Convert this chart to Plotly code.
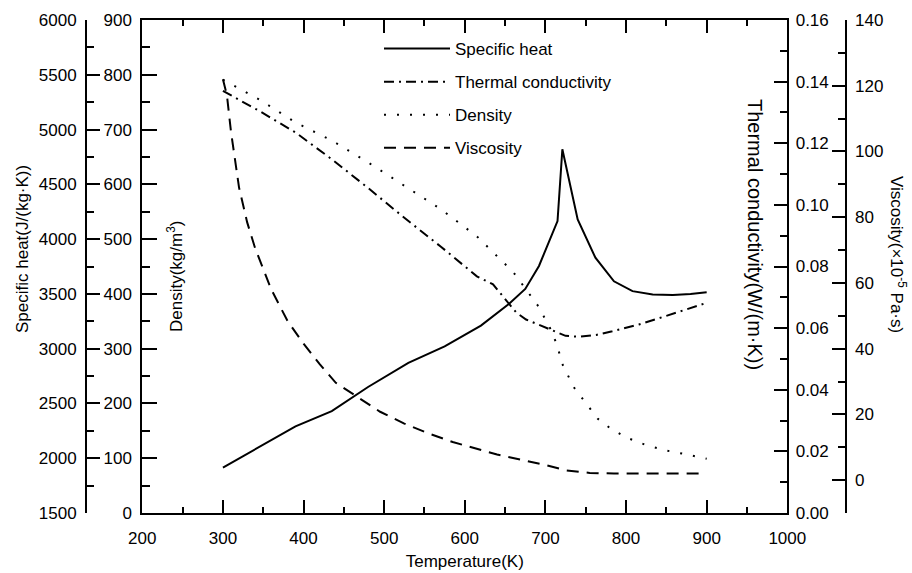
import plotly.graph_objects as go

# ---------------- data ----------------
T_cp = [300, 345, 390, 435, 480, 530, 575, 620, 655, 675, 692, 715, 721, 740, 762, 785, 808, 833, 858, 880, 900]
cp = [1915, 2105, 2290, 2430, 2650, 2870, 3020, 3210, 3410, 3545, 3755, 4165, 4820, 4180, 3830, 3615, 3525, 3495, 3490, 3500, 3515]

T_k = [300, 345, 390, 435, 480, 525, 570, 615, 635, 655, 664, 676, 700, 725, 742, 763, 783, 816, 849, 900]
k = [0.137, 0.1305, 0.1235, 0.1148, 0.1055, 0.0958, 0.0865, 0.0768, 0.0742, 0.0680, 0.0650, 0.0628,
     0.0601, 0.0575, 0.0572, 0.0578, 0.0590, 0.0612, 0.0639, 0.0682]

T_rho = [300, 345, 390, 435, 480, 525, 570, 615, 660, 690, 705, 715, 720, 735, 750, 765, 780, 800, 825, 850, 875, 900]
rho = [791, 755, 713, 680, 640, 598, 555, 505, 440, 380, 340, 305, 275, 230, 200, 172, 155, 138, 124, 114, 107, 99]

T_mu = [300, 305, 310, 320, 330, 340, 360, 380, 400, 420, 440, 465, 495, 525, 555, 585, 610, 640, 670, 700,
        725, 755, 785, 820, 860, 890]
mu = [122, 117, 106, 89, 78.5, 70.5, 58, 48.5, 41.5, 35.3, 29.6, 25.6, 20.8, 17.2, 14.2, 11.6, 9.8, 7.8, 6.2, 4.6,
      3.0, 2.2, 2.0, 2.0, 2.0, 2.0]

names = ["Specific heat", "Thermal conductivity", "Density", "Viscosity"]

# ---------------- layout helpers ----------------
W, H = 912, 573
ML, MR, MT, MB = 40, 40, 20, 60
PW = W - ML - MR
PH = H - MT - MB


def xp(px):
    return (px - ML) / PW


def yp(py):
    return (H - MB - py) / PH


FONT = "Liberation Sans, Arial, sans-serif"
FS = 17
LW = 2

fig = go.Figure()
fig.add_trace(go.Scatter(x=T_cp, y=cp, yaxis="y2", mode="lines", name=names[0], legendgroup="a",
                         line=dict(color="black", width=LW)))
fig.add_trace(go.Scatter(x=T_k, y=k, yaxis="y3", mode="lines", name=names[1], legendgroup="b",
                         line=dict(color="black", width=LW, dash="10px,5px,2px,5px")))
fig.add_trace(go.Scatter(x=T_rho, y=rho, yaxis="y", mode="lines", name=names[2], legendgroup="c",
                         line=dict(color="black", width=LW, dash="2px,11px")))
fig.add_trace(go.Scatter(x=T_mu, y=mu, yaxis="y4", mode="lines", name=names[3], legendgroup="d",
                         line=dict(color="black", width=LW, dash="12px,8px")))

common = dict(showline=True, linecolor="black", linewidth=2, ticks="inside", tickcolor="black",
              tickwidth=2, showgrid=False, zeroline=False, automargin=False,
              tickfont=dict(size=FS, color="black", family=FONT))


def minor(dt, ln):
    return dict(ticks="inside", ticklen=ln, dtick=dt, tickcolor="black", tickwidth=2, showgrid=False)


def title_ann(text, px, py, angle, size=FS):
    return dict(text=text, x=xp(px), y=yp(py), xref="paper", yref="paper", xanchor="center",
                yanchor="middle", textangle=angle, showarrow=False,
                font=dict(size=size, family=FONT, color="black"))


fig.update_layout(
    width=W, height=H,
    margin=dict(l=ML, r=MR, t=MT, b=MB, autoexpand=False),
    paper_bgcolor="white", plot_bgcolor="white",
    font=dict(family=FONT, size=FS, color="black"),
    showlegend=True,
    legend=dict(x=xp(379), y=yp(31), xanchor="left", yanchor="top", bgcolor="rgba(0,0,0,0)",
                font=dict(size=FS, family=FONT, color="black"), tracegroupgap=8, itemwidth=66),
    xaxis=dict(common, domain=[xp(142.3), xp(787.3)], range=[200, 1000], tick0=0, dtick=100, ticklen=13,
               minor=minor(50, 6), mirror="ticks", anchor="y", ticklabelstandoff=9,
               title=dict(text="Temperature(K)", standoff=8, font=dict(size=FS, family=FONT))),
    yaxis=dict(common, range=[0, 900], tick0=0, dtick=100, ticklen=15, minor=minor(50, 8),
               anchor="x", side="left", ticklabelstandoff=5),
    yaxis2=dict(common, range=[1500, 6000], tick0=0, dtick=500, ticklen=13, minor=minor(250, 7),
                overlaying="y", anchor="free", position=xp(86), side="left", ticklabelstandoff=5),
    yaxis3=dict(common, range=[0, 0.16], tick0=0, dtick=0.02, tickformat=".2f", ticklen=13,
                minor=minor(0.01, 7), overlaying="y", anchor="x", side="right", ticklabelstandoff=3),
    yaxis4=dict(common, range=[-10, 140], tick0=0, dtick=20, ticklen=13, minor=minor(10, 7),
                overlaying="y", anchor="free", position=xp(845.7), side="right", ticklabelstandoff=5),
    annotations=[
        title_ann("Specific heat(J/(kg·K))", 22, 249, -90),
        title_ann("Density(kg/m<sup>3</sup>)", 175, 277, -90),
        title_ann("Thermal conductivity(W/(m·K))", 755, 234, 90, 20),
        title_ann("Viscosity(×10<sup>-5</sup> Pa·s)", 898, 254, 90),
    ],
)

fig.write_html("out.html", config={"displayModeBar": False},
               post_script="document.body.style.margin='0';document.body.style.overflow='hidden';")
